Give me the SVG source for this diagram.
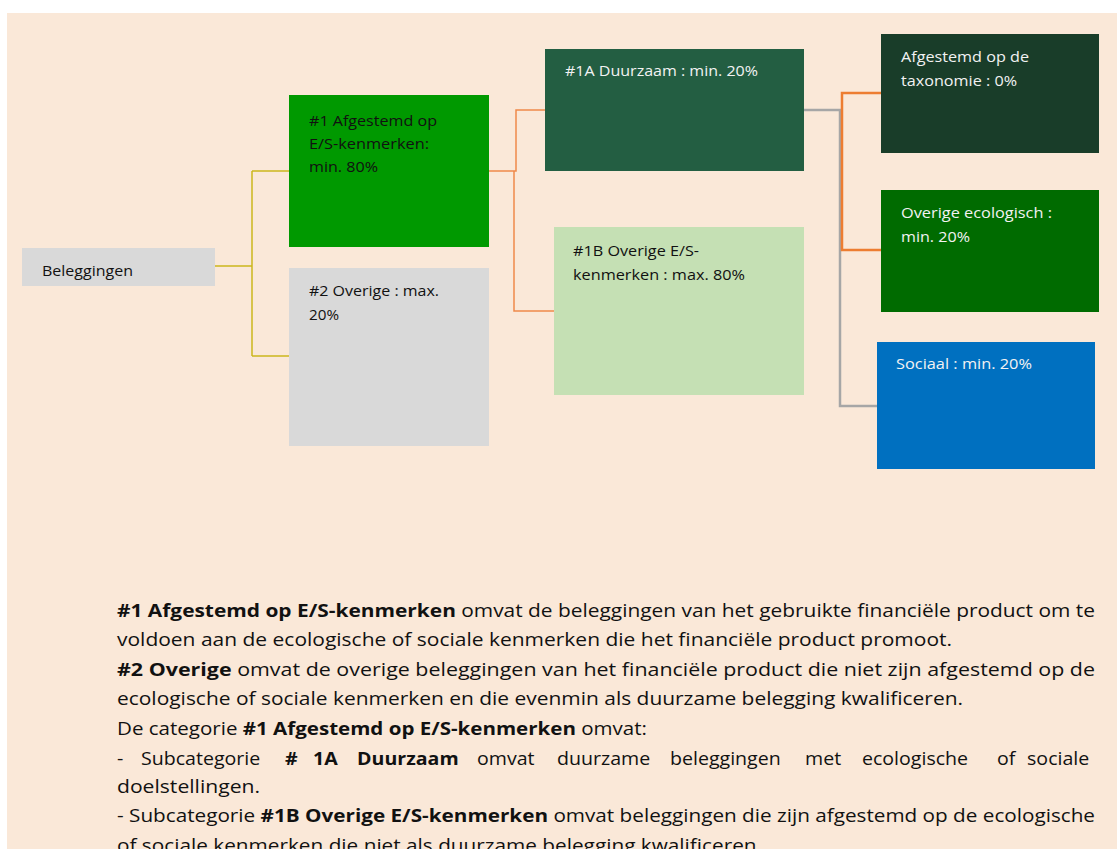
<svg xmlns="http://www.w3.org/2000/svg" width="1117" height="849" viewBox="0 0 1117 849">
<defs>
<style>
.nt{font-family:"Open Sans","Liberation Sans",sans-serif;font-size:14.5px;fill:#111}
.wt{fill:#f2f2f2}
.bt{font-family:"Open Sans","Liberation Sans",sans-serif;font-size:17.5px;fill:#111}
.b{font-weight:bold}
.cy{fill:none;stroke:#cbb61c;stroke-width:1.5}
.co{fill:none;stroke:#f0894a;stroke-width:1.5}
.cg{fill:none;stroke:#a6a6a6;stroke-width:2.5}
.ct{fill:none;stroke:#ed7d31;stroke-width:2.5}
</style>
<clipPath id="clipBel"><rect x="22" y="248" width="193" height="38"/></clipPath>
</defs>
<rect x="0" y="0" width="1117" height="849" fill="#ffffff"/>
<rect x="7" y="13" width="1110" height="836" fill="#fae8d8"/>

<g id="connectors">
<path class="cy" d="M215,266 H252 M252,171 V356 M252,171 H289 M252,356 H289"/>
<path class="co" d="M489,171 H516 V110 H545 M514,171 V311 H554"/>
<path class="cg" d="M804,110 H840 V406 H877"/>
<path class="ct" d="M881,93 H842 V250 H881"/>
</g>

<g id="node-beleggingen">
<rect x="22" y="248" width="193" height="38" fill="#d9d9d9"/>
<text class="nt" x="42" y="276" clip-path="url(#clipBel)" textLength="91" lengthAdjust="spacingAndGlyphs">Beleggingen</text>
</g>

<g id="node-1">
<rect x="289" y="95" width="200" height="152" fill="#009900"/>
<text class="nt" x="309" y="126" textLength="128" lengthAdjust="spacingAndGlyphs">#1 Afgestemd op</text>
<text class="nt" x="309" y="149" textLength="120" lengthAdjust="spacingAndGlyphs">E/S-kenmerken:</text>
<text class="nt" x="309" y="172" textLength="69" lengthAdjust="spacingAndGlyphs">min. 80%</text>
</g>

<g id="node-2">
<rect x="289" y="268" width="200" height="178" fill="#d9d9d9"/>
<text class="nt" x="309" y="296" textLength="130" lengthAdjust="spacingAndGlyphs">#2 Overige : max.</text>
<text class="nt" x="309" y="320" textLength="30" lengthAdjust="spacingAndGlyphs">20%</text>
</g>

<g id="node-1a">
<rect x="545" y="49" width="259" height="122" fill="#235e42"/>
<text class="nt wt" x="565" y="76" textLength="193" lengthAdjust="spacingAndGlyphs">#1A Duurzaam : min. 20%</text>
</g>

<g id="node-1b">
<rect x="554" y="227" width="250" height="168" fill="#c5e0b4"/>
<text class="nt" x="573" y="256" textLength="126" lengthAdjust="spacingAndGlyphs">#1B Overige E/S-</text>
<text class="nt" x="573" y="280" textLength="172" lengthAdjust="spacingAndGlyphs">kenmerken : max. 80%</text>
</g>

<g id="node-taxonomie">
<rect x="881" y="34" width="218" height="119" fill="#193d29"/>
<text class="nt wt" x="901" y="62" textLength="128" lengthAdjust="spacingAndGlyphs">Afgestemd op de</text>
<text class="nt wt" x="901" y="86" textLength="116" lengthAdjust="spacingAndGlyphs">taxonomie : 0%</text>
</g>

<g id="node-overig-ecologisch">
<rect x="881" y="190" width="218" height="122" fill="#006b00"/>
<text class="nt wt" x="901" y="218" textLength="151" lengthAdjust="spacingAndGlyphs">Overige ecologisch :</text>
<text class="nt wt" x="901" y="242" textLength="69" lengthAdjust="spacingAndGlyphs">min. 20%</text>
</g>

<g id="node-sociaal">
<rect x="877" y="342" width="218" height="127" fill="#0070c0"/>
<text class="nt wt" x="896" y="369" textLength="136" lengthAdjust="spacingAndGlyphs">Sociaal : min. 20%</text>
</g>

<g id="legend">
<text class="bt" x="117" y="617" textLength="978" lengthAdjust="spacingAndGlyphs"><tspan class="b">#1 Afgestemd op E/S-kenmerken</tspan> omvat de beleggingen van het gebruikte financiële product om te</text>
<text class="bt" x="117" y="646" textLength="835" lengthAdjust="spacingAndGlyphs">voldoen aan de ecologische of sociale kenmerken die het financiële product promoot.</text>
<text class="bt" x="117" y="676" textLength="978" lengthAdjust="spacingAndGlyphs"><tspan class="b">#2 Overige</tspan> omvat de overige beleggingen van het financiële product die niet zijn afgestemd op de</text>
<text class="bt" x="117" y="705" textLength="846" lengthAdjust="spacingAndGlyphs">ecologische of sociale kenmerken en die evenmin als duurzame belegging kwalificeren.</text>
<text class="bt" x="117" y="735" textLength="530" lengthAdjust="spacingAndGlyphs">De categorie <tspan class="b">#1 Afgestemd op E/S-kenmerken</tspan> omvat:</text>
<text class="bt" y="765" transform="scale(1.12 1)"><tspan x="104.5">-</tspan><tspan x="125.9">Subcategorie</tspan><tspan class="b" x="254.5">#</tspan><tspan class="b" x="279.5">1A</tspan><tspan class="b" x="318.8">Duurzaam</tspan><tspan x="425.9">omvat</tspan><tspan x="497.3">duurzame</tspan><tspan x="598.2">beleggingen</tspan><tspan x="718.8">met</tspan><tspan x="769.6">ecologische</tspan><tspan x="890.2">of</tspan><tspan x="917">sociale</tspan></text>
<text class="bt" x="117" y="793" textLength="143" lengthAdjust="spacingAndGlyphs">doelstellingen.</text>
<text class="bt" x="117" y="822" textLength="978" lengthAdjust="spacingAndGlyphs">- Subcategorie <tspan class="b">#1B Overige E/S-kenmerken</tspan> omvat beleggingen die zijn afgestemd op de ecologische</text>
<text class="bt" x="117" y="852" textLength="645" lengthAdjust="spacingAndGlyphs">of sociale kenmerken die niet als duurzame belegging kwalificeren.</text>
</g>
</svg>
